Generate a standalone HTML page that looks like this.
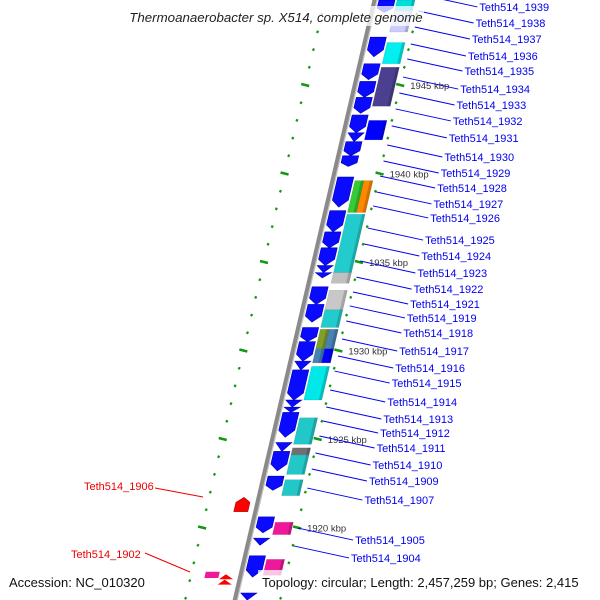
<!DOCTYPE html>
<html><head><meta charset="utf-8"><style>
html,body{margin:0;padding:0;background:#fff;}
svg{display:block;font-family:"Liberation Sans",sans-serif;}
</style></head><body>
<svg id="map" width="600" height="600" viewBox="0 0 600 600" xmlns="http://www.w3.org/2000/svg"></svg>
<script>
// ---- data (positions in kbp) ----
const geneAStart=[1949.8,1947.7,1946.2,1945.2,1944.3,1943.3,1942.3,1941.8,1941.0,1939.8,1937.9,1936.7,1935.8,1934.8,1934.4,1933.6,1932.6,1931.3,1930.5,1929.4,1928.9,1927.2,1926.8,1926.5,1924.8,1924.3,1922.9,1920.6,1919.4,1918.4,1916.3];
const geneAEnd=[1949.1,1946.6,1945.3,1944.3,1943.4,1942.3,1941.8,1941.0,1940.4,1938.1,1936.7,1935.8,1934.8,1934.4,1934.1,1932.6,1931.6,1930.5,1929.4,1928.9,1927.2,1926.8,1926.5,1925.1,1924.3,1923.2,1922.1,1919.7,1919.0,1917.2,1915.9];
const geneBStart=[1949.8,1949.2,1947.4,1946.0,1943.0,1939.6,1939.6,1937.7,1934.4,1933.4,1932.3,1931.2,1931.2,1930.1,1930.1,1929.1,1926.2,1924.5,1924.1,1922.7,1920.3,1918.2];
const geneBEnd=[1949.2,1948.0,1946.2,1943.8,1941.9,1937.8,1937.8,1934.4,1933.8,1932.3,1931.3,1930.1,1930.1,1929.3,1929.3,1927.2,1924.7,1924.1,1923.0,1921.8,1919.6,1917.3];
const geneBLane=[0,0,0,0,0,1,2,0,0,0,0,1,2,1,2,0,0,0,0,0,0,0];
const geneBColor=["#00dede","#ccccff","#00f0f0","#4b3f8f","#0000ff","#33cc33","#ff8800","#22cccc","#c0c0c0","#c8c8c8","#22cccc","#7f9f2a","#4682b4","#4682b4","#0000ff","#00e8e8","#22c8c8","#707070","#22c8c8","#22c8c8","#f0189a","#f0189a"];
const kbpTicks=[1945,1940,1935,1930,1925,1920];
const labelNames=["Teth514_1939","Teth514_1938","Teth514_1937","Teth514_1936","Teth514_1935","Teth514_1934","Teth514_1933","Teth514_1932","Teth514_1931","Teth514_1930","Teth514_1929","Teth514_1928","Teth514_1927","Teth514_1926","Teth514_1925","Teth514_1924","Teth514_1923","Teth514_1922","Teth514_1921","Teth514_1919","Teth514_1918","Teth514_1917","Teth514_1916","Teth514_1915","Teth514_1914","Teth514_1913","Teth514_1912","Teth514_1911","Teth514_1910","Teth514_1909","Teth514_1907","Teth514_1905","Teth514_1904"];
const labelKbp=[1949.41,1948.50,1947.60,1946.64,1945.79,1944.77,1943.87,1942.97,1942.01,1940.93,1940.03,1939.18,1938.28,1937.49,1936.24,1935.34,1934.38,1933.47,1932.63,1931.84,1930.99,1929.97,1929.01,1928.16,1927.09,1926.13,1925.34,1924.49,1923.53,1922.63,1921.55,1919.29,1918.28];

// ---- axis functions ----
const Y=k=>85+(1945-k)*17.7;
const X=y=>375-0.233*y;
const svg=document.getElementById('map');
const NS="http://www.w3.org/2000/svg";
function mk(tag,attrs,parent){const e=document.createElementNS(NS,tag);for(const a in attrs)e.setAttribute(a,attrs[a]);(parent||svg).appendChild(e);return e;}
function quad(y1,y2,o1,o2){return `${X(y1)+o1},${y1} ${X(y1)+o2},${y1} ${X(y2)+o2},${y2} ${X(y2)+o1},${y2}`;}

// dots tracks
for(let k=1950;k>=1915;k-=1){
  const y=Y(k); if(y<-5||y>605)continue;
  const big=Math.abs(k%5)<0.01;
  const d1=mk('line',{x1:X(y)-50-(big?4:1),y1:y-(big?1:0.5),x2:X(y)-50+(big?4:1),y2:y+(big?1:0.5),stroke:'#119911','stroke-width':2.5});
  
  
  const d2=mk('line',{x1:X(y)+45-(big?4:1),y1:y-(big?1:0.5),x2:X(y)+45+(big?4:1),y2:y+(big?1:0.5),stroke:'#119911','stroke-width':2.5});
  
  
}
// backbone
const bb=mk('line',{x1:X(-5),y1:-5,x2:X(605),y2:605,stroke:'#8a8a8a','stroke-width':5});


mk('line',{x1:X(-5)+2,y1:-5,x2:X(605)+2,y2:605,stroke:'#c8c8c8','stroke-width':1});

// column A genes (blue, pointing down)
geneAStart.forEach((s,i)=>{
  const y1=Y(s),y2=Y(geneAEnd[i]);const h=y2-y1;const o1=4,o2=20;
  let pts;
  if(h<10){pts=`${X(y1)+o1},${y1} ${X(y1)+o2},${y1} ${X(y2)+(o1+o2)/2},${y2}`;}
  else{const ym=y2-Math.min(7,h*0.35);pts=`${X(y1)+o1},${y1} ${X(y1)+o2},${y1} ${X(ym)+o2},${ym} ${X(y2)+(o1+o2)/2},${y2} ${X(ym)+o1},${ym}`;}
  const p=mk('polygon',{points:pts,fill:'#0a0aff',stroke:'#0000b0','stroke-width':0.6});
  
  
});
// column B genes
geneBStart.forEach((s,i)=>{
  const y1=Y(s),y2=Y(geneBEnd[i]);const lane=geneBLane[i];
  let o1=22,o2=40; if(lane===1){o2=31;} if(lane===2){o1=31;}
  const p=mk('polygon',{points:quad(y1,y2,o1,o2),fill:geneBColor[i],stroke:'rgba(0,0,0,0.15)','stroke-width':0.6});
  
  
  mk('polygon',{points:quad(y1,y2,o2-3,o2),fill:'rgba(0,0,0,0.18)'});
});
// reverse-strand genes (red)
const rev=mk('polygon',{points:(()=>{const y1=Y(1921.7),y2=Y(1920.9);const yt=y1+5;return `${X(yt)-22},${yt} ${X(y1)-15},${y1} ${X(yt)-8},${yt} ${X(y2)-8},${y2} ${X(y2)-22},${y2}`;})(),fill:'#ff0000',stroke:'#b00000','stroke-width':0.6});


[1917.3,1917.0].forEach(k=>{const y=Y(k);const t=mk('polygon',{points:`${X(y)-22},${y+4} ${X(y)-15},${y-1} ${X(y)-8},${y+4}`,fill:'#ff0000'});

});
const mg=mk('polygon',{points:quad(Y(1917.5),Y(1917.15),-36,-22),fill:'#f0189a'});



// kbp labels
kbpTicks.forEach(k=>{const y=Y(k);const t=mk('text',{x:X(y)+55,y:y+4,'font-size':9.5,fill:'#333'});t.textContent=k+' kbp';

});

// gene labels
labelNames.forEach((n,i)=>{
  const ly=Y(labelKbp[i]);const lx=X(ly)+106;const ay=ly-12;
  const l=mk('line',{x1:X(ay)+46,y1:ay,x2:lx-2,y2:ly,stroke:'#0000ee','stroke-width':1});
  
  
  const t=mk('text',{x:lx,y:ly+4,'font-size':11,fill:'#0000ee'});t.textContent=n;
  
  
});
// red labels
[['Teth514_1906',84,490,155,488,203,497],['Teth514_1902',71,558,145,553,190,572]].forEach(r=>{
  const l=mk('line',{x1:r[3],y1:r[4],x2:r[5],y2:r[6],stroke:'#ee0000','stroke-width':1});
  
  
  const t=mk('text',{x:r[1],y:r[2],'font-size':11,fill:'#ee0000'});t.textContent=r[0];
  
  
});
// title & footer
mk('rect',{x:128,y:6,width:296,height:20,fill:'rgba(255,255,255,0.75)'});
const titleEl=mk('text',{x:276,y:22,'font-size':13.3,'font-style':'italic','text-anchor':'middle',fill:'#222'});titleEl.textContent='Thermoanaerobacter sp. X514, complete genome';


mk('rect',{x:258,y:570,width:342,height:20,fill:'rgba(255,255,255,0.75)'});
const accEl=mk('text',{x:9,y:587,'font-size':13,fill:'#111'});accEl.textContent='Accession: NC_010320';


const topo=mk('text',{x:262,y:587,'font-size':13,fill:'#111'});topo.textContent='Topology: circular; Length: 2,457,259 bp; Genes: 2,415';


</script>
</body></html>
